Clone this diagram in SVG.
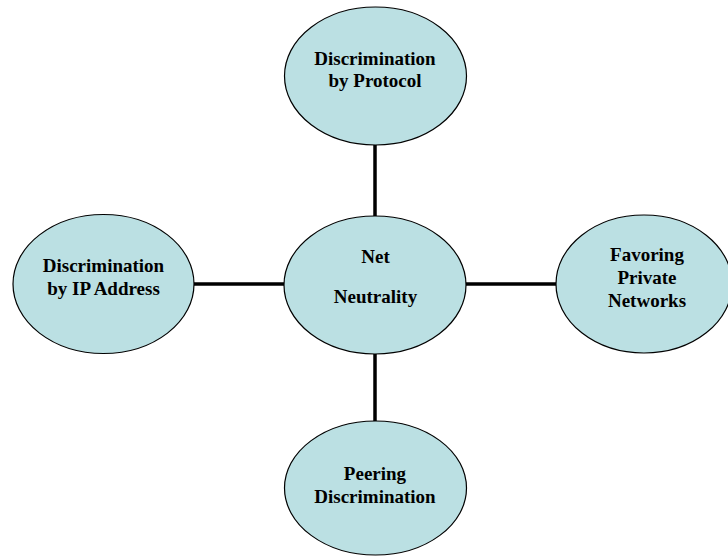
<svg xmlns="http://www.w3.org/2000/svg" width="728" height="556" viewBox="0 0 728 556">
  <style>
    .node ellipse { fill: #bbe0e3; stroke: #000; stroke-width: 1.2; }
    .node text { font-family: "Liberation Serif", "Times New Roman", serif; font-weight: bold; font-size: 19px; fill: #000; text-anchor: middle; }
    #connectors line { stroke: #000; stroke-width: 3.5; }
  </style>
  <rect width="728" height="556" fill="#fff"/>

  <!-- spokes from the hub to each surrounding topic -->
  <g id="connectors">
    <line x1="375" y1="145" x2="375" y2="216"/>
    <line x1="375" y1="354" x2="375" y2="421"/>
    <line x1="194" y1="284" x2="284" y2="284"/>
    <line x1="466" y1="284" x2="556" y2="284"/>
  </g>

  <g id="node-protocol" class="node">
    <ellipse cx="375.5" cy="76" rx="91" ry="69"/>
    <text x="375" y="65">Discrimination</text>
    <text x="375" y="87">by Protocol</text>
  </g>

  <g id="node-ip-address" class="node">
    <ellipse cx="103.5" cy="284" rx="90.5" ry="69.5"/>
    <text x="103.5" y="272">Discrimination</text>
    <text x="103.5" y="295">by IP Address</text>
  </g>

  <g id="node-net-neutrality" class="node">
    <ellipse cx="375" cy="285" rx="91" ry="69"/>
    <text x="375.5" y="263">Net</text>
    <text x="375.5" y="303">Neutrality</text>
  </g>

  <g id="node-private-networks" class="node">
    <ellipse cx="644" cy="284" rx="88" ry="69"/>
    <text x="647" y="261">Favoring</text>
    <text x="647" y="284">Private</text>
    <text x="647" y="307">Networks</text>
  </g>

  <g id="node-peering" class="node">
    <ellipse cx="375.5" cy="488" rx="91" ry="67"/>
    <text x="375" y="480">Peering</text>
    <text x="375" y="503">Discrimination</text>
  </g>
</svg>
